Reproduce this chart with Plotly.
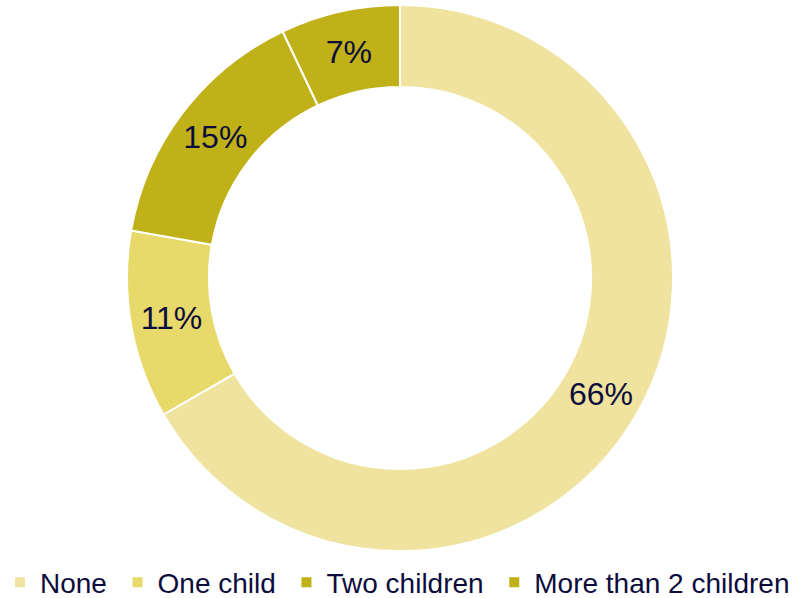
import plotly.graph_objects as go

categories = ["None", "One child", "Two children", "More than 2 children"]
values = [66, 11, 15, 7]
colors = ["#EFE39F", "#E8D96B", "#BFB117", "#BFB117"]

W, H = 809, 598
cx, cy, R = 400, 278, 273

# thin trailing space widens the gap between legend entries a little
legend_labels = [c + "\u2009" for c in categories]

fig = go.Figure(go.Pie(
    labels=legend_labels,
    values=values,
    hole=0.70,
    sort=False,
    direction="clockwise",
    rotation=0,
    marker=dict(colors=colors, line=dict(color="white", width=2)),
    texttemplate="%{value}%",
    textposition="inside",
    insidetextorientation="horizontal",
    textfont=dict(size=32, color="#0C0C3C", family="Liberation Sans, Arial, sans-serif"),
    domain=dict(x=[(cx - R) / W, (cx + R) / W], y=[1 - (cy + R) / H, 1 - (cy - R) / H]),
    hoverinfo="label+percent",
))

fig.update_layout(
    width=W, height=H,
    margin=dict(l=0, r=0, t=0, b=0, autoexpand=False),
    paper_bgcolor="white",
    plot_bgcolor="white",
    font=dict(family="Liberation Sans, Arial, sans-serif", color="#0C0C3C"),
    legend=dict(
        orientation="h",
        xref="container", yref="container",
        x=-0.003, xanchor="left",
        y=(H - 582.5) / H, yanchor="middle",
        font=dict(size=28, color="#0C0C3C"),
        itemwidth=30,
        traceorder="normal",
    ),
    showlegend=True,
)

fig.write_html("out.html", config={"displayModeBar": False},
               post_script="document.body.style.margin='0px';")
